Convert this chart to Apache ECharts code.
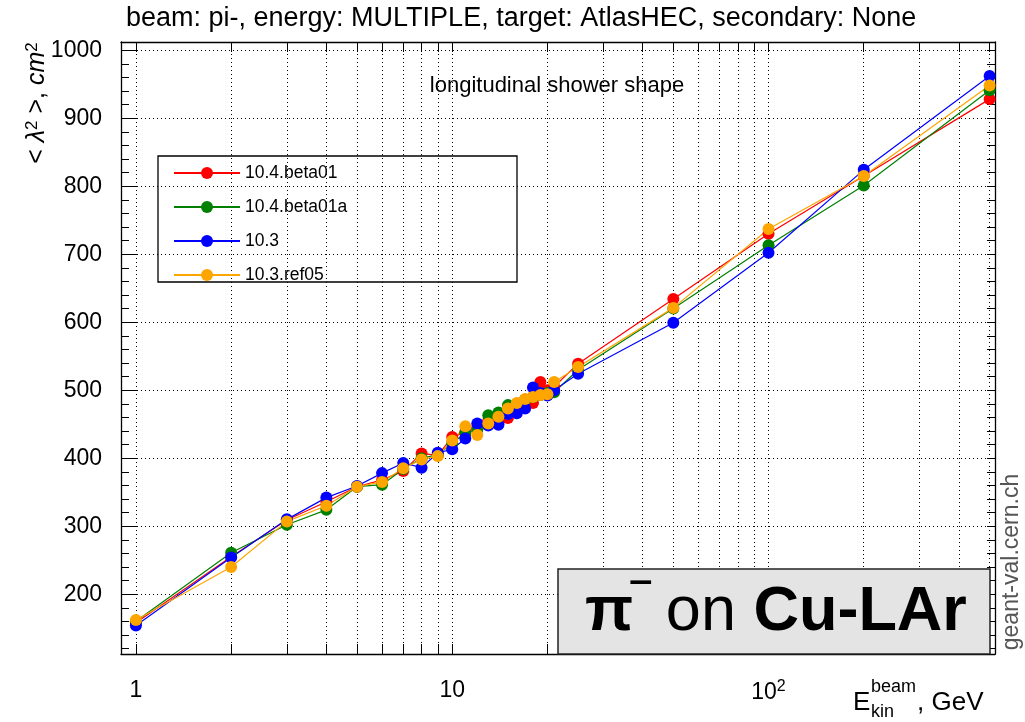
<!DOCTYPE html>
<html><head><meta charset="utf-8">
<script src="https://cdn.jsdelivr.net/npm/echarts@6/dist/echarts.min.js"></script>
<style>html,body{margin:0;padding:0;background:#fff}#c{width:1025px;height:722px}</style>
</head><body><div id="c"></div>
<script>
const energies = [1,2,3,4,5,6,7,8,9,10,11,12,13,14,15,16,17,18,19,20,21,25,50,100,200,500];
const beta01  = [158,255,309,336,358,368,381,407,404,431,438,445,455,452,459,470,486,481,512,500,505,539,634,730,815,928];
const beta01a = [160,261,302,324,358,361,384,400,405,422,437,442,463,467,478,480,486,490,493,496,497,530,620,713,801,941];
const v103    = [154,254,310,342,359,378,393,386,408,413,429,451,448,449,465,466,473,504,496,492,500,524,599,702,824,962];
const ref05   = [162,240,307,330,358,365,385,398,403,426,447,434,451,461,473,481,487,490,493,494,512,534,621,737,815,948];
const seriesNames = ['10.4.beta01','10.4.beta01a','10.3','10.3.ref05'];
const seriesColors = ['#ff0000','#008000','#0000ff','#ffa500'];
const xTicks = [1,2,3,4,5,6,7,8,9,10,20,30,40,50,60,70,80,90,100,200,300,400,500];
const xLabels = [1,10,100];
const yLabels = [200,300,400,500,600,700,800,900,1000];
const yMinorTicks = [120,140,160,180,200,220,240,260,280,300,320,340,360,380,400,420,440,460,480,500,520,540,560,580,600,620,640,660,680,700,720,740,760,780,800,820,840,860,880,900,920,940,960,980,1000];

const FF = 'Liberation Sans';
const chart = echarts.init(document.getElementById('c'), null, {renderer:'canvas'});
const allVals = [beta01, beta01a, v103, ref05];
const series = allVals.map((vals, k) => ({
  name: seriesNames[k], type: 'line',
  data: energies.map((e, i) => [e, vals[i]]),
  symbol: 'circle', symbolSize: 12, showSymbol: true,
  itemStyle: {color: seriesColors[k]},
  lineStyle: {color: seriesColors[k], width: 1.2},
  xAxisIndex: 0, yAxisIndex: 0, z: 3, animation: false
}));

const tickCommon = {show: true, inside: true, lineStyle: {color: '#000', width: 1}};
const X_MIN = 0.897, X_MAX = 520, Y_MIN = 112, Y_MAX = 1012;
chart.setOption({
  animation: false,
  textStyle: {fontFamily: FF},
  title: {
    text: 'beam: pi-, energy: MULTIPLE, target: AtlasHEC, secondary: None',
    left: 121, top: 0,
    textStyle: {fontSize: 27, fontWeight: 'normal', color: '#000', fontFamily: FF}
  },
  grid: {left: 121, right: 30, top: 42, bottom: 68, show: false},
  legend: {
    data: seriesNames, orient: 'vertical', left: 173, top: 163,
    itemWidth: 66, itemHeight: 15, itemGap: 14, padding: 0,
    textStyle: {fontSize: 17.5, color: '#000', fontFamily: FF, lineHeight: 20}
  },
  xAxis: [{
    type: 'log', logBase: 10, min: X_MIN, max: X_MAX, position: 'bottom',
    axisLine: {show: true, onZero: false, lineStyle: {color: '#000', width: 1.3}},
    axisTick: Object.assign({}, tickCommon, {length: 10, customValues: xTicks}),
    minorTick: {show: false},
    axisLabel: {customValues: xLabels, fontSize: 23, color: '#000', margin: 25, fontFamily: FF,
      formatter: v => (Math.abs(v - 100) < 1e-6 ? '10{sup|2}' : String(Math.round(v))),
      rich: {sup: {fontSize: 16, verticalAlign: 'top', padding: [0, 0, 12, 0], color: '#000', fontFamily: FF}}},
    splitLine: {show: true, lineStyle: {color: '#000', type: [1, 3], width: 1}}
  }, {
    type: 'log', logBase: 10, min: X_MIN, max: X_MAX, position: 'top',
    axisLine: {show: true, onZero: false, lineStyle: {color: '#000', width: 1.3}},
    axisTick: Object.assign({}, tickCommon, {length: 10, customValues: xTicks}),
    axisLabel: {show: false}, splitLine: {show: false}
  }],
  yAxis: [{
    type: 'value', min: Y_MIN, max: Y_MAX, position: 'left',
    axisLine: {show: true, onZero: false, lineStyle: {color: '#000', width: 1.3}},
    axisTick: Object.assign({}, tickCommon, {length: 15, customValues: yLabels}),
    axisLabel: {customValues: yLabels, fontSize: 23, color: '#000', margin: 19, fontFamily: FF,
      formatter: v => String(Math.round(v))},
    splitLine: {show: true, lineStyle: {color: '#000', type: [1, 3], width: 1}}
  }, {
    type: 'value', min: Y_MIN, max: Y_MAX, position: 'right',
    axisLine: {show: true, onZero: false, lineStyle: {color: '#000', width: 1.3}},
    axisTick: Object.assign({}, tickCommon, {length: 8, customValues: yMinorTicks}),
    axisLabel: {show: false}, splitLine: {show: false}
  }, {
    type: 'value', min: Y_MIN, max: Y_MAX, position: 'left',
    axisLine: {show: false},
    axisTick: Object.assign({}, tickCommon, {length: 8, customValues: yMinorTicks}),
    axisLabel: {show: false}, splitLine: {show: false}
  }],
  series: series,
  graphic: [
    {type: 'rect', shape: {x: 158, y: 156, width: 359, height: 126}, style: {fill: 'none', stroke: '#000', lineWidth: 1.3}, z: 10, silent: true},
    {type: 'text', x: 557, y: 86, style: {text: 'longitudinal shower shape', fontSize: 22, fill: '#000', fontFamily: FF, textAlign: 'center', textVerticalAlign: 'middle'}, z: 10},
    {type: 'text', x: 37, y: 103, rotation: Math.PI / 2,
      style: {text: '< {i|λ}{s|2} >, {i|cm}{s|2}', fontSize: 25, fill: '#000', fontFamily: FF, textAlign: 'center', textVerticalAlign: 'middle',
        rich: {i: {fontStyle: 'italic', fontSize: 25, fontFamily: FF}, s: {fontSize: 17, verticalAlign: 'top', padding: [0, 0, 10, 0], fontFamily: FF}}}, z: 10},
    {type: 'rect', shape: {x: 558, y: 569, width: 432, height: 85}, style: {fill: '#e4e4e4', stroke: '#222', lineWidth: 1.5}, z: 20, silent: true},
    {type: 'text', x: 776, y: 613, z: 21,
      style: {text: '{b|π}{s|‾}{r| on }{b|Cu-LAr}', fill: '#000', fontFamily: FF, textAlign: 'center', textVerticalAlign: 'middle',
        rich: {b: {fontSize: 63, fontWeight: 'bold', fontFamily: FF}, r: {fontSize: 63, fontFamily: FF}, s: {fontSize: 45, fontWeight: 'bold', verticalAlign: 'top', fontFamily: FF}}}},
    {type: 'text', x: 1012, y: 562, rotation: Math.PI / 2, z: 10,
      style: {text: 'geant-val.cern.ch', fontSize: 23, fill: '#555', fontFamily: FF, textAlign: 'center', textVerticalAlign: 'middle'}},
    {type: 'text', x: 853, y: 703, z: 10, style: {text: 'E', fontSize: 26, fill: '#000', fontFamily: FF, textVerticalAlign: 'middle'}},
    {type: 'text', x: 871, y: 687, z: 10, style: {text: 'beam', fontSize: 18, fill: '#000', fontFamily: FF, textVerticalAlign: 'middle'}},
    {type: 'text', x: 871, y: 712, z: 10, style: {text: 'kin', fontSize: 18, fill: '#000', fontFamily: FF, textVerticalAlign: 'middle'}},
    {type: 'text', x: 917, y: 703, z: 10, style: {text: ', GeV', fontSize: 26, fill: '#000', fontFamily: FF, textVerticalAlign: 'middle'}}
  ]
});
</script></body></html>
